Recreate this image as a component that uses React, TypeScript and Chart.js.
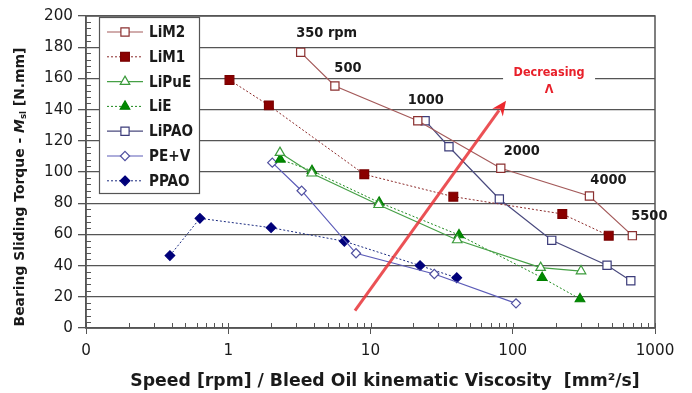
import React, { useEffect, useRef } from "react";
import { Chart, registerables } from "chart.js";

Chart.register(...registerables);

// ---------- data ----------
const seriesNames = ["LiM2", "LiM1", "LiPuE", "LiE", "LiPAO", "PE+V", "PPAO"];

const LiM2_x = [3.23, 5.62, 21.5, 82.4, 346, 693];
const LiM2_y = [176.7, 155.1, 132.9, 102.4, 84.6, 59.2];
const LiM1_x = [1.02, 1.93, 9.04, 38.2, 223, 473];
const LiM1_y = [159, 142.7, 98.5, 84.2, 73.1, 59.2];
const LiPuE_x = [2.31, 3.86, 11.4, 40.7, 157, 302];
const LiPuE_y = [112.4, 99.2, 79, 56.4, 38.7, 36.5];
const LiE_x = [2.32, 3.88, 11.5, 41.9, 161, 297];
const LiE_y = [108.1, 100.8, 80.5, 59.6, 32.2, 18.6];
const LiPAO_x = [24.2, 35.6, 80.5, 188, 460, 676];
const LiPAO_y = [132.9, 116.2, 82.7, 56.2, 40.2, 30.3];
const PEV_x = [2.04, 3.28, 7.91, 28.1, 105.4];
const PEV_y = [106, 88, 47.9, 34.6, 15.8];
const PPAO_x = [0.389, 0.632, 2.0, 6.55, 22.3, 40.4];
const PPAO_y = [46.4, 70.3, 64.3, 55.6, 40, 32.2];

const rpmLabels = ["350 rpm", "500", "1000", "2000", "4000", "5500"];
const xTickValues = [0.1, 1, 10, 100, 1000];
const xTickLabels = ["0", "1", "10", "100", "1000"];
const yMin = 0;
const yMax = 200;
const yStep = 20;

const arrowFrom = [7.78, 11.1];
const arrowTo = [89.7, 145.7];
const noteLines = ["Decreasing", "\u039B"];
const noteAt = [180, 163.5];

const xTitle = "Speed [rpm] / Bleed Oil kinematic Viscosity  [mm\u00B2/s]";
const yTitleParts = ["Bearing Sliding Torque - ", "M", "sl", " [N.mm]"];

// ---------- styles ----------
const FAMILY = '"DejaVu Sans Condensed", "DejaVu Sans", sans-serif';
const FAMILY_W = '"DejaVu Sans", sans-serif';
const LABEL_OFFSETS = [
  [26, -19],
  [13, -18],
  [8, -20],
  [21, -17],
  [19, -16],
  [17, -19],
];

type Style = {
  line: string;
  edge: string;
  fill: string;
  dash: number[];
  shape: "rect" | "triangle" | "rectRot";
  r: number;
  lw: number;
};

const styles: Style[] = [
  { line: "#a45a5a", edge: "#8b3030", fill: "#ffffff", dash: [], shape: "rect", r: 5.8, lw: 1.2 },
  { line: "#8b2a2a", edge: "#7a0000", fill: "#8b0000", dash: [2, 2], shape: "rect", r: 6.2, lw: 1 },
  { line: "#46a046", edge: "#3a9a3a", fill: "#ffffff", dash: [], shape: "triangle", r: 5.5, lw: 1.2 },
  { line: "#1f8a1f", edge: "#008000", fill: "#008a00", dash: [2, 2], shape: "triangle", r: 5.5, lw: 1 },
  { line: "#4a4a7e", edge: "#3c3c7a", fill: "#ffffff", dash: [], shape: "rect", r: 5.8, lw: 1.2 },
  { line: "#5c5cb8", edge: "#5050a0", fill: "#ffffff", dash: [], shape: "rectRot", r: 4.6, lw: 1.2 },
  { line: "#1c2c80", edge: "#00007a", fill: "#00007a", dash: [2, 2], shape: "rectRot", r: 4.8, lw: 1 },
];

const xs = [LiM2_x, LiM1_x, LiPuE_x, LiE_x, LiPAO_x, PEV_x, PPAO_x];
const ys = [LiM2_y, LiM1_y, LiPuE_y, LiE_y, LiPAO_y, PEV_y, PPAO_y];

function fitSize(ctx: CanvasRenderingContext2D, text: string, weight: string, family: string, target: number) {
  ctx.font = `${weight} 100px ${family}`;
  const w = ctx.measureText(text).width;
  return (100 * target) / w;
}

function drawMarker(ctx: CanvasRenderingContext2D, s: Style, x: number, y: number) {
  ctx.save();
  ctx.setLineDash([]);
  ctx.beginPath();
  if (s.shape === "rect") {
    const h = Math.SQRT1_2 * s.r;
    ctx.rect(x - h, y - h, 2 * h, 2 * h);
  } else if (s.shape === "triangle") {
    const r = s.r;
    ctx.moveTo(x, y - r);
    ctx.lineTo(x + r * 0.866, y + r * 0.5);
    ctx.lineTo(x - r * 0.866, y + r * 0.5);
    ctx.closePath();
  } else {
    const r = s.r;
    ctx.moveTo(x, y - r);
    ctx.lineTo(x + r, y);
    ctx.lineTo(x, y + r);
    ctx.lineTo(x - r, y);
    ctx.closePath();
  }
  ctx.fillStyle = s.fill;
  ctx.fill();
  ctx.strokeStyle = s.edge;
  ctx.lineWidth = 1.2;
  ctx.stroke();
  ctx.restore();
}

const overlay = {
  id: "overlay",
  afterDatasetsDraw(chart: any) {
    const { ctx, chartArea: ca, scales } = chart;
    const x = scales.x;
    const y = scales.y;
    ctx.save();

    // frame
    ctx.strokeStyle = "#555";
    ctx.lineWidth = 1.5;
    ctx.setLineDash([]);
    ctx.strokeRect(ca.left, ca.top, ca.right - ca.left, ca.bottom - ca.top);

    // minor y ticks (inside)
    ctx.lineWidth = 1;
    ctx.strokeStyle = "#555";
    ctx.beginPath();
    for (let v = yMin; v <= yMax; v += 4) {
      if (v % yStep === 0) continue;
      const py = Math.round(y.getPixelForValue(v)) + 0.5;
      ctx.moveTo(ca.left, py);
      ctx.lineTo(ca.left + 5, py);
    }
    // minor x ticks (inside)
    for (let e = -1; e < 3; e++) {
      const d = Math.pow(10, e);
      for (let k = 2; k <= 9; k++) {
        const px = Math.round(x.getPixelForValue(d * k)) + 0.5;
        ctx.moveTo(px, ca.bottom);
        ctx.lineTo(px, ca.bottom - 5);
      }
    }
    xTickValues.forEach((v) => {
      const px = Math.round(x.getPixelForValue(v)) + 0.5;
      ctx.moveTo(px, ca.bottom);
      ctx.lineTo(px, ca.bottom - 5);
    });
    ctx.stroke();

    // rpm labels next to LiM2 points
    const rpmSize = fitSize(ctx, "350 rpm", "bold", FAMILY, 61);
    ctx.font = `bold ${rpmSize}px ${FAMILY}`;
    ctx.fillStyle = "#1a1a1a";
    ctx.textAlign = "center";
    ctx.textBaseline = "middle";
    rpmLabels.forEach((t, i) => {
      const px = x.getPixelForValue(LiM2_x[i]) + LABEL_OFFSETS[i][0];
      const py = y.getPixelForValue(LiM2_y[i]) + LABEL_OFFSETS[i][1];
      ctx.fillText(t, px, py);
    });

    // arrow
    const ax0 = x.getPixelForValue(arrowFrom[0]);
    const ay0 = y.getPixelForValue(arrowFrom[1]);
    const ax1 = x.getPixelForValue(arrowTo[0]);
    const ay1 = y.getPixelForValue(arrowTo[1]);
    const ang = Math.atan2(ay1 - ay0, ax1 - ax0);
    const headLen = 16;
    const red = "rgba(232,50,55,0.85)";
    ctx.strokeStyle = red;
    ctx.lineWidth = 3;
    ctx.beginPath();
    ctx.moveTo(ax0, ay0);
    ctx.lineTo(ax1 - Math.cos(ang) * (headLen - 4), ay1 - Math.sin(ang) * (headLen - 4));
    ctx.stroke();
    ctx.fillStyle = "rgba(235,30,35,0.95)";
    ctx.beginPath();
    ctx.moveTo(ax1, ay1);
    ctx.lineTo(ax1 - headLen * Math.cos(ang - 0.42), ay1 - headLen * Math.sin(ang - 0.42));
    ctx.lineTo(ax1 - (headLen - 6) * Math.cos(ang), ay1 - (headLen - 6) * Math.sin(ang));
    ctx.lineTo(ax1 - headLen * Math.cos(ang + 0.42), ay1 - headLen * Math.sin(ang + 0.42));
    ctx.closePath();
    ctx.fill();

    // note "Decreasing Λ"
    const nx = x.getPixelForValue(noteAt[0]);
    const ny = y.getPixelForValue(noteAt[1]);
    const nSize = fitSize(ctx, noteLines[0], "bold", FAMILY, 71);
    ctx.fillStyle = "#ffffff";
    ctx.fillRect(nx - 46, ny - 10, 92, 18);
    ctx.font = `bold ${nSize}px ${FAMILY}`;
    ctx.fillStyle = "#e8202a";
    ctx.fillText(noteLines[0], nx, ny);
    ctx.fillText(noteLines[1], nx, ny + 17);

    // legend
    const lx = 99;
    const ly = 17;
    const lw = 100;
    const lh = 176;
    ctx.fillStyle = "#ffffff";
    ctx.fillRect(lx, ly, lw, lh);
    ctx.strokeStyle = "#555";
    ctx.lineWidth = 1.2;
    ctx.strokeRect(lx + 0.5, ly + 0.5, lw, lh);
    const legSize = fitSize(ctx, "LiPAO", "bold", FAMILY, 44);
    ctx.textAlign = "left";
    seriesNames.forEach((name, i) => {
      const s = styles[i];
      const cy = ly + 15 + i * 24.8;
      ctx.strokeStyle = s.line;
      ctx.lineWidth = s.lw;
      ctx.setLineDash(s.dash);
      ctx.beginPath();
      ctx.moveTo(lx + 8, cy);
      ctx.lineTo(lx + 44, cy);
      ctx.stroke();
      ctx.setLineDash([]);
      drawMarker(ctx, s, lx + 26, cy);
      ctx.font = `bold ${legSize}px ${FAMILY}`;
      ctx.fillStyle = "#1a1a1a";
      ctx.fillText(name, lx + 50, cy + 1);
    });

    ctx.restore();
  },
  afterDraw(chart: any) {
    const { ctx } = chart;
    ctx.save();
    ctx.fillStyle = "#1a1a1a";
    ctx.textBaseline = "middle";
    // x title
    const xsz = fitSize(ctx, xTitle, "bold", FAMILY_W, 510);
    ctx.font = `bold ${xsz}px ${FAMILY_W}`;
    ctx.textAlign = "center";
    ctx.fillText(xTitle, 385, 382);

    // y title (rotated, with subscript)
    const full = yTitleParts.join("");
    const ySize = fitSize(ctx, full, "bold", FAMILY_W, 284);
    const mainFont = `bold ${ySize}px ${FAMILY_W}`;
    const itFont = `italic bold ${ySize}px ${FAMILY_W}`;
    const subFont = `bold ${ySize * 0.62}px ${FAMILY_W}`;
    const fonts = [mainFont, itFont, subFont, mainFont];
    const widths = yTitleParts.map((p, i) => {
      ctx.font = fonts[i];
      return ctx.measureText(p).width;
    });
    const total = widths.reduce((a, b) => a + b, 0);
    ctx.translate(20, 187);
    ctx.rotate(-Math.PI / 2);
    ctx.textAlign = "left";
    let cx = -total / 2;
    yTitleParts.forEach((p, i) => {
      ctx.font = fonts[i];
      ctx.fillText(p, cx, i === 2 ? ySize * 0.25 : 0);
      cx += widths[i];
    });
    ctx.restore();
  },
};

export default function App() {
  const ref = useRef<HTMLCanvasElement | null>(null);

  useEffect(() => {
    document.body.style.margin = "0";
    const canvas = ref.current;
    if (!canvas) return;
    const mctx = document.createElement("canvas").getContext("2d") as CanvasRenderingContext2D;
    const tickSize = fitSize(mctx, "200", "normal", FAMILY_W, 29);

    const datasets = seriesNames.map((name, i) => {
      const s = styles[i];
      return {
        label: name,
        data: xs[i].map((xv, j) => ({ x: xv, y: ys[i][j] })),
        borderColor: s.line,
        borderWidth: s.lw,
        borderDash: s.dash,
        backgroundColor: s.fill,
        pointStyle: s.shape,
        pointRadius: s.r,
        pointBorderWidth: 1.2,
        pointBorderColor: s.edge,
        pointBackgroundColor: s.fill,
        tension: 0,
        fill: false,
      };
    });

    const chart = new Chart(canvas, {
      type: "line",
      data: { datasets },
      options: {
        responsive: false,
        animation: false,
        events: [],
        layout: { padding: { top: 16, right: 37, left: 0, bottom: 0 } },
        plugins: { legend: { display: false }, tooltip: { enabled: false } },
        scales: {
          x: {
            type: "logarithmic",
            min: 0.1,
            max: 1000,
            afterBuildTicks: (s: any) => {
              s.ticks = xTickValues.map((v) => ({ value: v }));
            },
            ticks: {
              autoSkip: false,
              maxRotation: 0,
              padding: 8,
              color: "#1a1a1a",
              font: { family: FAMILY_W, size: tickSize },
              callback: (_v: any, i: number) => xTickLabels[i],
            },
            grid: { drawOnChartArea: false, drawTicks: true, tickLength: 6, color: "#555", lineWidth: 1 },
            border: { color: "#555", width: 1.5 },
            afterFit: (s: any) => {
              s.height = 65;
            },
          },
          y: {
            type: "linear",
            min: yMin,
            max: yMax,
            ticks: {
              stepSize: yStep,
              padding: 5,
              color: "#1a1a1a",
              font: { family: FAMILY_W, size: tickSize },
            },
            grid: { color: "#555", lineWidth: 1.3, tickLength: 8 },
            border: { color: "#555", width: 1.5 },
            afterFit: (s: any) => {
              s.width = 86;
            },
          },
        },
      },
      plugins: [overlay],
    } as any);
    return () => chart.destroy();
  }, []);

  return (
    <div style={{ width: 692, height: 393 }}>
      <canvas ref={ref} width={692} height={393} style={{ display: "block" }} />
    </div>
  );
}
